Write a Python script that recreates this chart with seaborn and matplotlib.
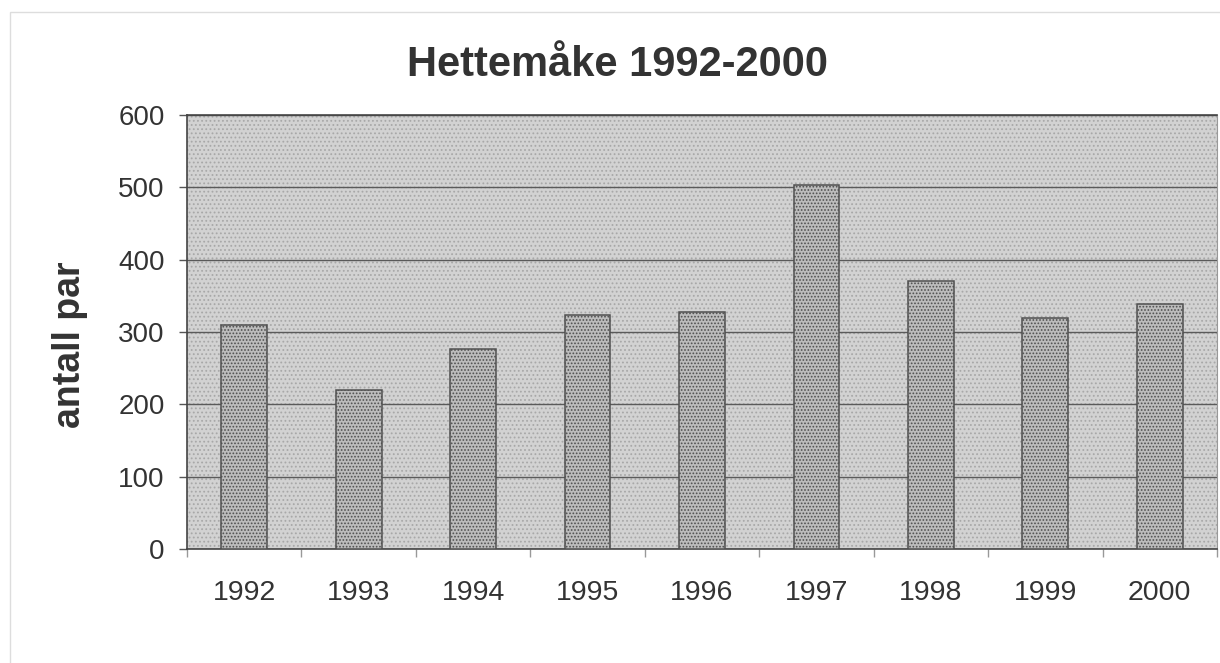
import matplotlib
matplotlib.use("Agg")
import matplotlib.pyplot as plt
import seaborn as sns
import pandas as pd
from matplotlib.patches import Rectangle

years = ["1992", "1993", "1994", "1995", "1996", "1997", "1998", "1999", "2000"]
pairs = [310, 220, 277, 323, 328, 503, 370, 319, 339]
yticks = [0, 100, 200, 300, 400, 500, 600]

df = pd.DataFrame({"year": years, "par": pairs})

sns.set_style("white")
plt.rcParams['font.family'] = ['Liberation Sans', 'DejaVu Sans']
plt.rcParams['hatch.color'] = '#8a8a8a'
plt.rcParams['hatch.linewidth'] = 0.8

fig = plt.figure(figsize=(12.2, 6.63), dpi=100)
ax = fig.add_axes([187 / 1220, 1 - 549 / 663, (1217 - 187) / 1220, (549 - 115) / 663])

# stippled plot area
ax.set_facecolor('#d2d2d2')
ax.add_patch(Rectangle((0, 0), 1, 1, transform=ax.transAxes, facecolor='none',
                       edgecolor='#a8a8a8', hatch='....', linewidth=0, zorder=0))

sns.barplot(data=df, x="year", y="par", width=0.4, color='#bcbcbc',
            edgecolor='#505050', linewidth=1.1, saturation=1, ax=ax, zorder=3)
for p in ax.patches[1:]:
    p.set_hatch('.....')

ax.set_ylim(0, 600)
ax.set_xlim(-0.5, len(years) - 0.5)
ax.set_yticks(yticks)
ax.yaxis.grid(True, color='#5a5a5a', linewidth=1.0)
ax.set_axisbelow(True)
for g in ax.get_ygridlines():
    g.set_zorder(1)

ax.tick_params(axis='y', which='major', length=6, width=1, color='#555555',
               pad=10, labelsize=20, labelcolor='#333333', left=True, direction='out')
ax.tick_params(axis='x', which='major', length=0, pad=22, labelsize=20.5, labelcolor='#333333')
ax.set_xticks([i - 0.5 for i in range(len(years) + 1)], minor=True)
ax.tick_params(axis='x', which='minor', length=6, width=1, color='#999999', direction='out', bottom=True)

for s in ['left', 'top', 'bottom']:
    ax.spines[s].set_color('#444444')
    ax.spines[s].set_linewidth(1.2)
ax.spines['right'].set_color('#999999')

ax.set_xlabel("")
ax.set_ylabel("antall par", fontsize=27, fontweight='bold', color='#333333')
ax.yaxis.set_label_coords(-0.096, 0.47)
fig.text(0.506, 1 - 65 / 663, "Hettemåke 1992-2000", fontsize=30, fontweight='bold',
         color='#333333', ha='center', va='center')

# faint chart area border
fig.add_artist(Rectangle((10 / 1220, -0.01), 1.02, 1 - 12 / 663 + 0.01, transform=fig.transFigure,
                         facecolor='none', edgecolor='#dddddd', linewidth=1))

fig.savefig("out.png", dpi=100)
